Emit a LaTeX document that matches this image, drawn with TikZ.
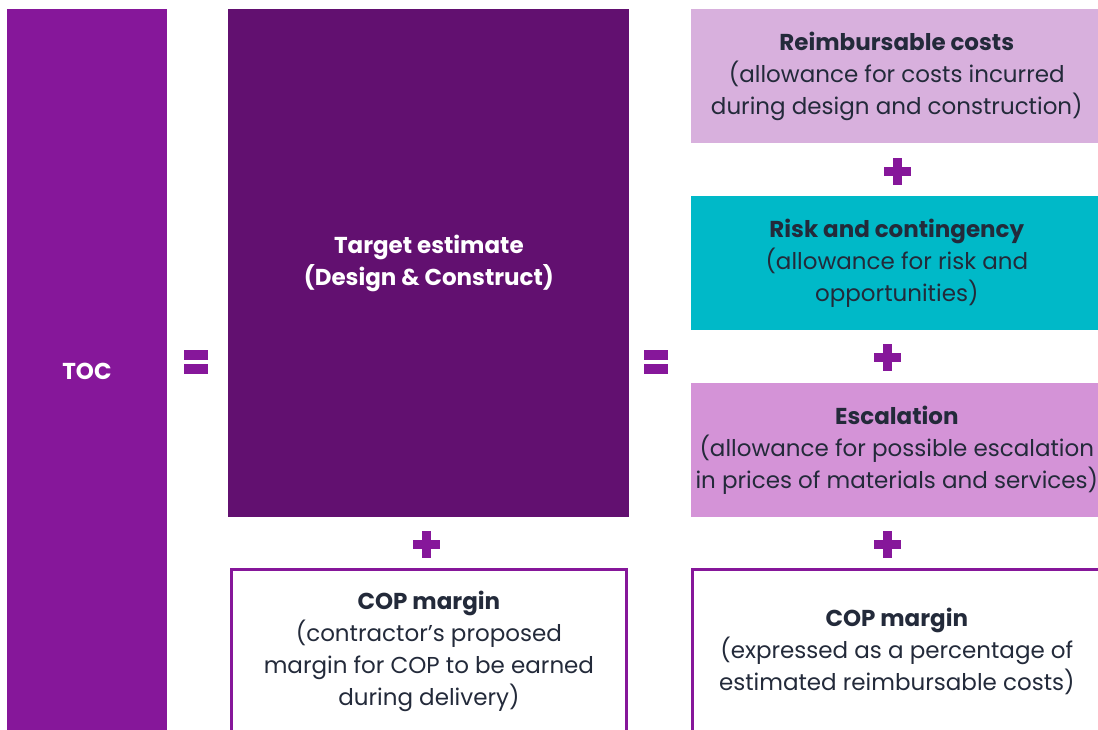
\documentclass[tikz,border=0pt]{standalone}
\usepackage{fontspec}
\setmainfont{Poppins}
\usetikzlibrary{positioning}
\definecolor{tocpurple}{HTML}{86179A}
\definecolor{targetpurple}{HTML}{621070}
\definecolor{reimblilac}{HTML}{D8B0DD}
\definecolor{riskteal}{HTML}{00B9C8}
\definecolor{escorchid}{HTML}{D493D7}
\definecolor{inkblue}{HTML}{232A3A}
\tikzset{
  block/.style={rectangle, inner sep=0pt, align=center, text=inkblue,
    font=\fontsize{23}{32}\selectfont},
  darkblock/.style={block, text=white, font=\fontsize{23}{32}\selectfont\bfseries},
  rightblock/.style={block, minimum width=412pt, minimum height=134pt},
  copblock/.style={block, draw=tocpurple, line width=3pt, minimum height=164pt},
  plussign/.pic={
    \fill[tocpurple] (-13.5,-4.5) rectangle (13.5,4.5);
    \fill[tocpurple] (-4.5,-13.5) rectangle (4.5,13.5);
  },
  equalsign/.pic={
    \fill[tocpurple] (-12,-12) rectangle (12,-2);
    \fill[tocpurple] (-12,2) rectangle (12,12);
  }
}

\begin{document}
\begin{tikzpicture}[x=1pt, y=-1pt]
      \useasboundingbox (0,0) rectangle (1098,729);
      \clip (0,0) rectangle (1098,729);
      % left column
      \node[darkblock, fill=tocpurple, minimum width=160pt, minimum height=724pt] (toc) at (87,371) {TOC};
      \node[darkblock, fill=targetpurple, minimum width=401pt, minimum height=508pt, right=61pt of toc.north east, anchor=north west] (target) {Target estimate\\(Design \& Construct)};
      \node[copblock, minimum width=395pt, below=51pt of target] (copleft) {\textbf{COP margin}\\(contractor’s proposed\\margin for COP to be earned\\during delivery)};
      % right column
      \node[rightblock, fill=reimblilac, right=61pt of target.north east, anchor=north west] (reimb) {\textbf{Reimbursable costs}\\(allowance for costs incurred\\during design and construction)};
      \node[rightblock, fill=riskteal, below=53pt of reimb] (risk) {\textbf{Risk and contingency}\\(allowance for risk and\\opportunities)};
      \node[rightblock, fill=escorchid, below=52pt of risk] (escal) {\textbf{Escalation}\\(allowance for possible escalation\\in prices of materials and services)};
      \node[copblock, minimum width=409pt, below=51pt of escal] (copright) {\textbf{COP margin}\\(expressed as a percentage of\\estimated reimbursable costs)};
      % operators
      \pic at (196,362) {equalsign};
      \pic at (656,362) {equalsign};
      \pic at (897,171) {plussign};
      \pic at (887,357) {plussign};
      \pic at (887,544) {plussign};
      \pic at (426,544) {plussign};
    \end{tikzpicture}
\end{document}
